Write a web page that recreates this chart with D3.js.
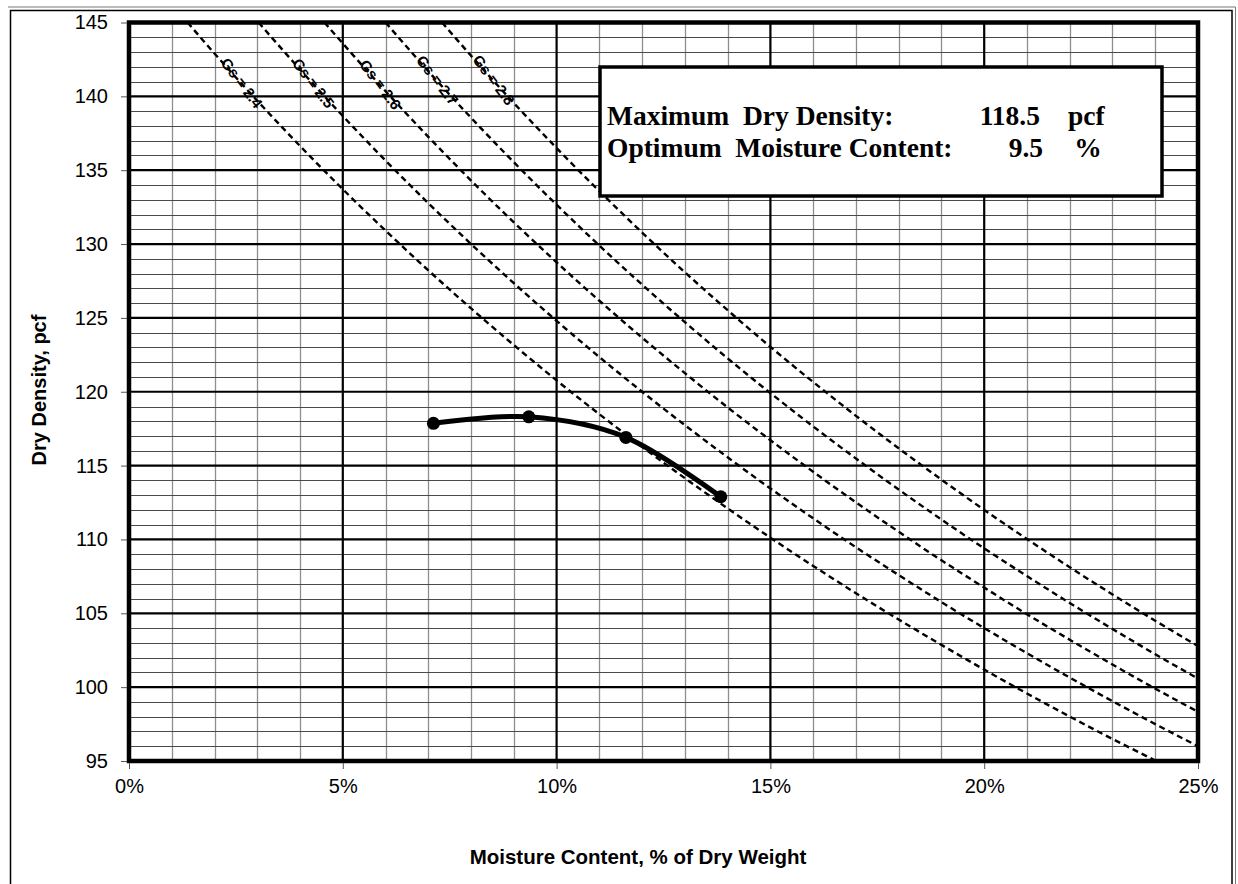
<!DOCTYPE html>
<html>
<head>
<meta charset="utf-8">
<script src="https://cdn.jsdelivr.net/npm/d3@7/dist/d3.min.js"></script>
<style>
  html, body { margin: 0; padding: 0; background: #fff; }
  svg { display: block; }
  .tick text { font-family: "Liberation Sans", Arial, sans-serif; font-size: 20px; fill: #000; }
</style>
</head>
<body>
<svg id="chart" width="1238" height="884"></svg>
<script>
// Moisture–density (Proctor) test results
const testMoisture = [7.12, 9.35, 11.62, 13.84];      // % of dry weight
const testDensity  = [117.86, 118.30, 116.91, 112.89]; // pcf

const maxDryDensity   = 118.5;  // pcf
const optimumMoisture = 9.5;    // %

// Zero-air-voids lines for several specific gravities, [moisture %, dry density pcf]
const gsValues = [2.4, 2.5, 2.6, 2.7, 2.8];
const zavGs24 = [[1.37,145],[2,142.90],[3,139.70],[4,136.64],[5,133.71],[6,130.91],[7,128.22],[8,125.64],[9,123.16],[10,120.77],[11,118.48],[12,116.27],[13,114.15],[14,112.10],[15,110.12],[16,108.21],[17,106.36],[18,104.58],[19,102.86],[20,101.19],[21,99.57],[22,98.01],[23,96.49],[24,95.03],[24.02,95]];
const zavGs25 = [[3.03,145],[4,141.82],[5,138.67],[6,135.65],[7,132.77],[8,130.00],[9,127.35],[10,124.80],[11,122.35],[12,120.00],[13,117.74],[14,115.56],[15,113.45],[16,111.43],[17,109.47],[18,107.59],[19,105.76],[20,104.00],[21,102.30],[22,100.65],[23,99.05],[24,97.50],[25,96.00]];
const zavGs26 = [[4.57,145],[5,143.58],[6,140.35],[7,137.26],[8,134.30],[9,131.47],[10,128.76],[11,126.16],[12,123.66],[13,121.26],[14,118.94],[15,116.72],[16,114.58],[17,112.51],[18,110.52],[19,108.59],[20,106.74],[21,104.94],[22,103.21],[23,101.53],[24,99.90],[25,98.33]];
const zavGs27 = [[6.00,145],[7,141.70],[8,138.55],[9,135.54],[10,132.66],[11,129.90],[12,127.25],[13,124.71],[14,122.26],[15,119.91],[16,117.65],[17,115.48],[18,113.38],[19,111.35],[20,109.40],[21,107.52],[22,105.70],[23,103.94],[24,102.23],[25,100.58]];
const zavGs28 = [[7.32,145],[8,142.75],[9,139.55],[10,136.50],[11,133.58],[12,130.78],[13,128.09],[14,125.52],[15,123.04],[16,120.66],[17,118.37],[18,116.17],[19,114.05],[20,112.00],[21,110.03],[22,108.12],[23,106.28],[24,104.50],[25,102.78]];
const zavCurves = [zavGs24, zavGs25, zavGs26, zavGs27, zavGs28];
// moisture content at which each Gs label sits
const gsLabelMoisture = [2.63, 4.30, 5.87, 7.20, 8.52];

// Axis ticks
const xTicks = [0, 5, 10, 15, 20, 25];
const yTicks = [95, 100, 105, 110, 115, 120, 125, 130, 135, 140, 145];

const svg = d3.select("#chart");
const W = 1238, H = 884;
const plot = { left: 129, right: 1198, top: 22.5, bottom: 761 };

const x = d3.scaleLinear().domain([0, 25]).range([plot.left, plot.right]);
const y = d3.scaleLinear().domain([95, 145]).range([plot.bottom, plot.top]);

// Outer chart frame
svg.append("path")
  .attr("d", `M8,7 H1235.5 V${H}`)
  .attr("fill", "none").attr("stroke", "#777").attr("stroke-width", 1);
svg.append("path")
  .attr("d", `M10.5,${H} V10.5 H1232 V${H}`)
  .attr("fill", "none").attr("stroke", "#000").attr("stroke-width", 1.5);

svg.append("defs").append("clipPath").attr("id", "plotClip")
  .append("rect")
  .attr("x", plot.left).attr("y", plot.top)
  .attr("width", plot.right - plot.left).attr("height", plot.bottom - plot.top);

const grid = svg.append("g");
// minor grid
grid.selectAll("line.vminor")
  .data(d3.range(1, 25).filter(v => v % 5 !== 0))
  .join("line")
  .attr("x1", d => Math.round(x(d)) + 0.5).attr("x2", d => Math.round(x(d)) + 0.5)
  .attr("y1", plot.top).attr("y2", plot.bottom)
  .attr("stroke", "#8f8f8f").attr("stroke-width", 1.3);
grid.selectAll("line.hminor")
  .data(d3.range(96, 145).filter(v => v % 5 !== 0))
  .join("line")
  .attr("x1", plot.left).attr("x2", plot.right)
  .attr("y1", d => Math.round(y(d)) + 0.5).attr("y2", d => Math.round(y(d)) + 0.5)
  .attr("stroke", "#4a4a4a").attr("stroke-width", 1.1);
// major grid
grid.selectAll("line.vmajor")
  .data([5, 10, 15, 20])
  .join("line")
  .attr("x1", d => x(d)).attr("x2", d => x(d))
  .attr("y1", plot.top).attr("y2", plot.bottom)
  .attr("stroke", "#000").attr("stroke-width", 2.2);
grid.selectAll("line.hmajor")
  .data([100, 105, 110, 115, 120, 125, 130, 135, 140])
  .join("line")
  .attr("x1", plot.left).attr("x2", plot.right)
  .attr("y1", d => y(d)).attr("y2", d => y(d))
  .attr("stroke", "#000").attr("stroke-width", 2.2);

// Zero-air-voids lines
const zavLine = d3.line()
  .x(d => x(d[0])).y(d => y(d[1]))
  .curve(d3.curveMonotoneX);
const zavG = svg.append("g").attr("clip-path", "url(#plotClip)");
zavG.selectAll("path")
  .data(zavCurves)
  .join("path")
  .attr("d", zavLine)
  .attr("fill", "none")
  .attr("stroke", "#000")
  .attr("stroke-width", 2.4)
  .attr("stroke-dasharray", "6,4");

// Gs labels, rotated along their lines
function densityAt(curve, w) {
  const i = Math.max(1, d3.bisector(d => d[0]).left(curve, w));
  const a = curve[i - 1], b = curve[i];
  const t = (w - a[0]) / (b[0] - a[0]);
  return { v: a[1] + t * (b[1] - a[1]), a, b };
}
const labelG = svg.append("g");
gsValues.forEach((gs, k) => {
  const curve = zavCurves[k];
  const w = gsLabelMoisture[k];
  const r = densityAt(curve, w);
  const ang = Math.atan2(y(r.b[1]) - y(r.a[1]), x(r.b[0]) - x(r.a[0])) * 180 / Math.PI + 5;
  labelG.append("text")
    .attr("transform", `translate(${x(w)},${y(r.v)}) rotate(${ang})`)
    .attr("text-anchor", "middle")
    .attr("dy", "0.32em")
    .style("font-family", "'Liberation Sans', Arial, sans-serif")
    .style("font-size", "15px")
    .style("font-weight", "bold")
    .style("white-space", "pre")
    .text(`Gs = ${gs.toFixed(1)}`);
});

// Compaction curve
const testPoints = testMoisture.map((m, i) => [m, testDensity[i]]);
svg.append("path")
  .datum(testPoints)
  .attr("d", d3.line().x(d => x(d[0])).y(d => y(d[1])).curve(d3.curveCardinal.tension(0)))
  .attr("fill", "none")
  .attr("stroke", "#000")
  .attr("stroke-width", 5)
  .attr("stroke-linejoin", "round");
svg.append("g").selectAll("circle")
  .data(testPoints)
  .join("circle")
  .attr("cx", d => x(d[0])).attr("cy", d => y(d[1]))
  .attr("r", 6.5)
  .attr("fill", "#000");

// Plot border
svg.append("rect")
  .attr("x", plot.left).attr("y", plot.top)
  .attr("width", plot.right - plot.left).attr("height", plot.bottom - plot.top)
  .attr("fill", "none").attr("stroke", "#000").attr("stroke-width", 4.5);

// Axes
const yAxis = d3.axisLeft(y).tickValues(yTicks).tickSizeInner(6).tickSizeOuter(0).tickPadding(13);
const gy = svg.append("g").attr("transform", `translate(${plot.left - 2},0)`).call(yAxis);
gy.select(".domain").remove();
gy.selectAll(".tick line").attr("stroke", "#555");

const xAxis = d3.axisBottom(x).tickValues(xTicks).tickSizeInner(6).tickSizeOuter(0).tickPadding(10)
  .tickFormat(d => `${d}%`);
const gx = svg.append("g").attr("transform", `translate(0,${plot.bottom + 2})`).call(xAxis);
gx.select(".domain").remove();
gx.selectAll(".tick line").attr("stroke", "#555");

// Axis titles
svg.append("text")
  .attr("transform", "translate(46,390) rotate(-90)")
  .attr("text-anchor", "middle")
  .style("font-family", "'Liberation Sans', Arial, sans-serif")
  .style("font-size", "20px").style("font-weight", "bold")
  .text("Dry Density, pcf");
svg.append("text")
  .attr("x", 638).attr("y", 864)
  .attr("text-anchor", "middle")
  .style("font-family", "'Liberation Sans', Arial, sans-serif")
  .style("font-size", "20.5px").style("font-weight", "bold")
  .text("Moisture Content, % of Dry Weight");

// Results box
const box = svg.append("g");
box.append("rect")
  .attr("x", 600).attr("y", 67)
  .attr("width", 562).attr("height", 129)
  .attr("fill", "#fff").attr("stroke", "#000").attr("stroke-width", 3.5);
const serif = "'Liberation Serif', 'Times New Roman', serif";
function boxText(txt, xx, yy, anchor) {
  box.append("text")
    .attr("x", xx).attr("y", yy)
    .attr("text-anchor", anchor)
    .style("font-family", serif).style("font-size", "27.5px").style("font-weight", "bold")
    .style("white-space", "pre")
    .text(txt);
}
boxText("Maximum  Dry Density:", 607, 125, "start");
boxText(maxDryDensity.toFixed(1), 1040, 125, "end");
boxText("pcf", 1068, 125, "start");
boxText("Optimum  Moisture Content:", 607, 157, "start");
boxText(optimumMoisture.toFixed(1), 1043, 157, "end");
boxText("%", 1088, 157, "middle");
</script>
</body>
</html>
